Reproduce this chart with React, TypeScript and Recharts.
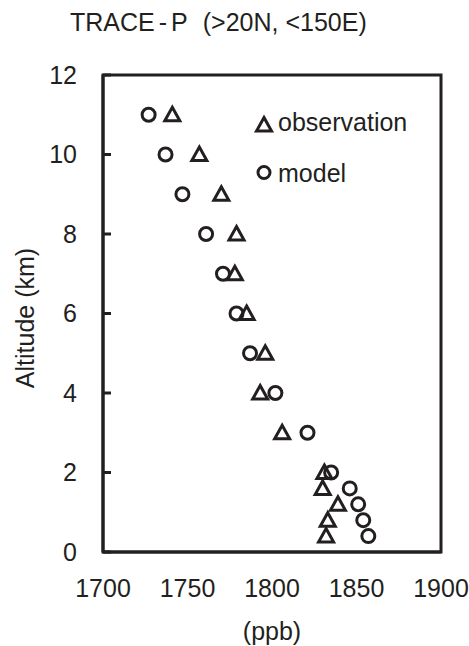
import { ReferenceArea, Scatter, ScatterChart, XAxis, YAxis } from "recharts";

const INK = "#231f20";
const FONT = '"Liberation Sans", Arial, Helvetica, sans-serif';

const ALTITUDES = [11, 10, 9, 8, 7, 6, 5, 4, 3, 2, 1.6, 1.2, 0.8, 0.4];
const OBSERVATION = [1741, 1757, 1770, 1779, 1778, 1785, 1796, 1793, 1806, 1831, 1830, 1839, 1833, 1832];
const MODEL = [1727, 1737, 1747, 1761, 1771, 1779, 1787, 1802, 1821, 1835, 1846, 1851, 1854, 1857];

const X_TICKS = [1700, 1750, 1800, 1850, 1900];
const Y_TICKS = [0, 2, 4, 6, 8, 10, 12];

const obsData = ALTITUDES.map((alt, i) => ({ ppb: OBSERVATION[i], alt }));
const modelData = ALTITUDES.map((alt, i) => ({ ppb: MODEL[i], alt }));

function Triangle({ cx, cy }: any) {
  if (cx == null || cy == null) return null;
  const d = `M${cx},${cy - 7.5} L${cx + 7.5},${cy + 6} L${cx - 7.5},${cy + 6} Z`;
  return <path d={d} fill="none" stroke={INK} strokeWidth={3} />;
}

function Ring({ cx, cy }: any) {
  if (cx == null || cy == null) return null;
  return <circle cx={cx} cy={cy} r={6.5} fill="none" stroke={INK} strokeWidth={3} />;
}

// y ticks: label on the left, short tick mark pointing into the plot
function YTick({ x, y, payload }: any) {
  const axisX = x + 26;
  return (
    <g>
      <line x1={axisX} x2={axisX + 8} y1={y} y2={y} stroke={INK} strokeWidth={3} />
      <text x={x} y={y} dy="0.355em" textAnchor="end" fill={INK} fontSize={25} fontFamily={FONT}>
        {payload.value}
      </text>
    </g>
  );
}

function YLabel() {
  return (
    <text
      x={33.5}
      y={318}
      transform="rotate(-90, 33.5, 318)"
      textAnchor="middle"
      fill={INK}
      fontSize={25}
      fontFamily={FONT}
    >
      Altitude (km)
    </text>
  );
}

export default function App() {
  return (
    <div style={{ position: "relative", width: 469, height: 646, background: "#fff" }}>
      <style>{`body{margin:0}`}</style>
      <ScatterChart width={469} height={646} margin={{ top: 75, right: 28, bottom: 0, left: 0 }}>
        <XAxis
          type="number"
          dataKey="ppb"
          domain={[1700, 1900]}
          ticks={X_TICKS}
          height={94}
          tickLine={false}
          tickSize={6}
          tickMargin={21}
          axisLine={{ stroke: INK, strokeWidth: 3 }}
          tick={{ fill: INK, fontSize: 25, fontFamily: FONT }}
          label={{ value: "(ppb)", position: "insideBottom", offset: 6, fill: INK, fontSize: 25, fontFamily: FONT }}
        />
        <YAxis
          type="number"
          dataKey="alt"
          domain={[0, 12]}
          ticks={Y_TICKS}
          width={103}
          tickLine={false}
          tickSize={0}
          tickMargin={26}
          axisLine={{ stroke: INK, strokeWidth: 3 }}
          tick={<YTick />}
          label={{ content: () => <YLabel /> }}
        />
        <ReferenceArea x1={1700} x2={1900} y1={0} y2={12} fill="none" stroke={INK} strokeWidth={3} />
        <Scatter name="observation" data={obsData} shape={<Triangle />} isAnimationActive={false} />
        <Scatter name="model" data={modelData} shape={<Ring />} isAnimationActive={false} />
      </ScatterChart>
      <svg
        width={469}
        height={646}
        style={{ position: "absolute", left: 0, top: 0, pointerEvents: "none" }}
      >
        <text x={70} y={31} fill={INK} fontSize={25} fontFamily={FONT}>
          TRACE
          <tspan dx={4}>-</tspan>
          <tspan dx={4}>P</tspan>
          <tspan dx={15}>(&gt;20N, &lt;150E)</tspan>
        </text>
        <path d="M264,117.5 L271.5,131 L256.5,131 Z" fill="none" stroke={INK} strokeWidth={3} />
        <text x={278} y={131} fill={INK} fontSize={25} fontFamily={FONT}>
          observation
        </text>
        <circle cx={264} cy={172.5} r={6} fill="none" stroke={INK} strokeWidth={3} />
        <text x={278} y={182} fill={INK} fontSize={25} fontFamily={FONT}>
          model
        </text>
      </svg>
    </div>
  );
}
